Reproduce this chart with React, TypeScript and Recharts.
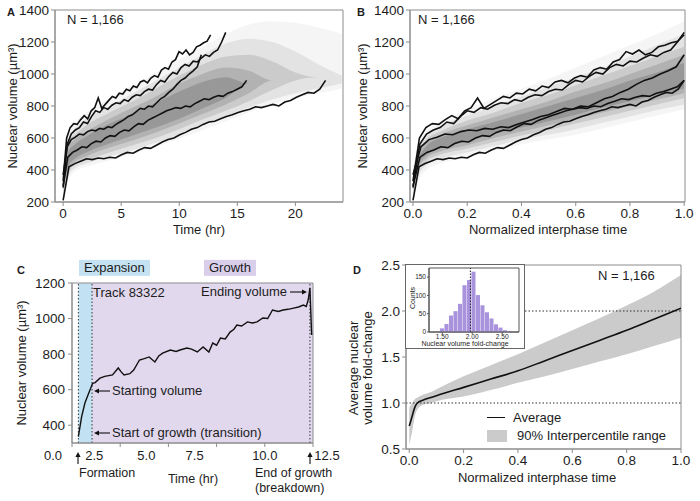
import React from "react";
import {
  ComposedChart,
  Line,
  Area,
  Bar,
  XAxis,
  YAxis,
  ReferenceArea,
  ReferenceLine,
} from "recharts";

const FONT = '"Liberation Sans", Arial, sans-serif';
const AXIS = "#8c8c8c";
const INK = "#1c1c1c";

// five highlighted tracks, each sampled evenly over its own lifetime
const TRACK_HOURS = [12.7, 14.0, 11.9, 15.8, 22.6];
const TRACK_1 = [
  330, 600, 665, 690, 685, 715, 740, 720, 770, 790, 850, 785, 810, 835, 860,
  850, 880, 875, 905, 895, 925, 915, 950, 960, 945, 975, 990, 980, 1025, 1040,
  1030, 1075, 1090, 1140, 1125, 1150, 1120, 1135, 1170, 1180, 1195, 1205, 1245,
];
const TRACK_2 = [
  290, 560, 625, 650, 665, 700, 690, 735, 770, 760, 790, 780, 805, 820, 815,
  840, 830, 855, 870, 865, 890, 905, 900, 935, 960, 950, 985, 1010, 1000, 1040,
  1060, 1050, 1080, 1075, 1100, 1120, 1110, 1135, 1150, 1200, 1260,
];
const TRACK_3 = [
  370, 545, 590, 605, 625, 620, 640, 650, 645, 660, 655, 670, 665, 685, 700,
  715, 735, 745, 765, 785, 780, 800, 795, 820, 845, 860, 885, 905, 935, 960,
  975, 1000, 1020, 1045, 1120,
];
const TRACK_4 = [
  300, 480, 510, 525, 545, 540, 565, 580, 575, 600, 615, 610, 635, 650, 645,
  670, 690, 685, 710, 725, 740, 755, 770, 780, 790, 785, 800, 795, 815, 830,
  845, 840, 855, 865, 860, 880, 890, 905, 920, 960,
];
const TRACK_5 = [
  210, 420, 440, 455, 470, 465, 475, 470, 480, 475, 495, 510, 505, 525, 540,
  535, 555, 575, 590, 600, 620, 635, 655, 665, 685, 700, 705, 720, 735, 745,
  760, 770, 780, 795, 790, 800, 810, 800, 825, 835, 855, 870, 885, 880, 905,
  960,
];
const TRACKS = [TRACK_1, TRACK_2, TRACK_3, TRACK_4, TRACK_5];

// density of all 1,166 tracks, as nested bands (outer -> core)
const CLOUD_A_HOURS = [0, 0.5, 1, 2, 4, 6, 8, 10, 12, 14, 16, 18, 20, 22, 24];
const CLOUD_A_LOW = [
  [220, 340, 390, 420, 460, 500, 545, 595, 650, 705, 760, 810, 850, 880, 910],
  [240, 370, 410, 440, 485, 525, 570, 620, 680, 735, 790, 840, 880, 910, 940],
  [260, 390, 430, 460, 510, 555, 600, 655, 715, 770, 830, 900, 960, 980, 980],
  [280, 410, 450, 485, 540, 585, 635, 690, 750, 810, 880, 960, 960, 960, 960],
  [300, 430, 470, 510, 565, 615, 665, 720, 785, 850, 940, 940, 940, 940, 940],
];
const CLOUD_A_HIGH = [
  [460, 640, 700, 760, 850, 930, 1010, 1090, 1170, 1250, 1310, 1330, 1320, 1290, 1250],
  [430, 610, 660, 720, 800, 880, 960, 1040, 1120, 1190, 1220, 1200, 1140, 1060, 990],
  [400, 580, 620, 680, 760, 830, 910, 990, 1060, 1110, 1120, 1080, 1010, 980, 980],
  [380, 550, 590, 640, 720, 790, 860, 940, 1000, 1040, 1020, 960, 960, 960, 960],
  [360, 520, 560, 610, 690, 750, 820, 890, 950, 980, 940, 940, 940, 940, 940],
];
const CLOUD_B_TIME = [0, 0.02, 0.05, 0.1, 0.2, 0.3, 0.4, 0.5, 0.6, 0.7, 0.8, 0.9, 1.0];
const CLOUD_B_LOW = [
  [220, 330, 400, 440, 480, 520, 560, 590, 620, 660, 700, 740, 780],
  [240, 360, 430, 470, 510, 550, 590, 620, 655, 695, 735, 775, 810],
  [260, 390, 455, 495, 535, 575, 615, 650, 690, 730, 770, 810, 850],
  [280, 410, 475, 515, 555, 600, 640, 680, 720, 760, 800, 840, 880],
  [300, 430, 495, 535, 580, 625, 665, 705, 745, 790, 830, 870, 910],
];
const CLOUD_B_HIGH = [
  [430, 560, 640, 700, 780, 850, 910, 970, 1040, 1110, 1180, 1250, 1330],
  [410, 530, 610, 670, 740, 800, 860, 920, 980, 1040, 1110, 1180, 1250],
  [390, 510, 590, 640, 710, 760, 820, 870, 930, 990, 1050, 1110, 1170],
  [370, 490, 570, 620, 680, 730, 780, 830, 890, 940, 1000, 1060, 1120],
  [350, 470, 550, 600, 655, 700, 750, 800, 850, 900, 960, 1010, 1070],
];
const CLOUD_OPACITY = [0.04, 0.07, 0.1, 0.12, 0.14];

// panel C: track 83322
const C_HOURS = [
  0.33, 0.5, 0.67, 0.85, 1.07, 1.2, 1.45, 1.7, 2.1, 2.4, 2.55, 2.7, 3.0, 3.2,
  3.5, 3.75, 4.0, 4.3, 4.5, 4.7, 5.1, 5.4, 5.6, 5.96, 6.2, 6.5, 6.8, 7.1, 7.3,
  7.5, 7.7, 7.95, 8.2, 8.4, 8.55, 8.8, 9.1, 9.35, 9.6, 9.9, 10.15, 10.4, 10.7,
  10.95, 11.2, 11.5, 11.75, 12.0, 12.15, 12.25, 12.34, 12.43,
];
const C_VOLUME = [
  336, 448, 525, 575, 636, 640, 665, 675, 683, 722, 700, 683, 690, 710, 767,
  775, 784, 756, 790, 805, 823, 815, 823, 834, 828, 812, 840, 812, 862, 850,
  890, 885, 924, 940, 963, 958, 981, 975, 981, 1003, 1000, 1048, 1040, 1048,
  1052, 1059, 1065, 1076, 1068, 1104, 1172, 908,
];
const C_FORMATION = 0.33;
const C_TRANSITION = 1.04;
const C_BREAKDOWN = 12.34;
const C_TICKS = [0, 2.5, 5, 7.5, 10, 12.5];
const C_TICK_SHIFT: Record<string, number> = { "0": -19, "2.5": -26, "5": -22, "7.5": -22, "10": 0, "12.5": 14 };

// panel D: fold-change over normalized time
const D_TIME = [0, 0.01, 0.02, 0.03, 0.05, 0.08, 0.1, 0.2, 0.3, 0.4, 0.5, 0.6, 0.7, 0.8, 0.9, 1.0];
const D_AVG = [0.75, 0.85, 0.95, 1.0, 1.03, 1.06, 1.08, 1.17, 1.26, 1.35, 1.46, 1.57, 1.68, 1.79, 1.91, 2.03];
const D_LOW = [0.55, 0.68, 0.85, 0.93, 0.98, 1.0, 1.02, 1.07, 1.14, 1.22, 1.29, 1.37, 1.45, 1.53, 1.62, 1.71];
const D_HIGH = [0.95, 1.0, 1.04, 1.06, 1.09, 1.12, 1.15, 1.29, 1.41, 1.53, 1.66, 1.79, 1.92, 2.06, 2.21, 2.39];

// inset histogram of final fold-change
const HIST_BINS = [1.5, 1.575, 1.65, 1.725, 1.8, 1.875, 1.95, 2.025, 2.1, 2.175, 2.25, 2.325, 2.4, 2.475, 2.55, 2.625];
const HIST_COUNTS = [10, 22, 45, 57, 77, 128, 142, 165, 101, 73, 54, 37, 21, 12, 5, 2];
const HIST_MEAN = 1.97;

const trackRows = TRACKS.map((vals, k) =>
  vals.map((v, i) => {
    const n = i / (vals.length - 1);
    return { t: n * TRACK_HOURS[k], n, v };
  })
);

function bands(xs: number[], key: string, low: number[][], high: number[][]) {
  return xs.map((x, i) => {
    const row: any = { [key]: x };
    low.forEach((lo, k) => {
      row["b" + k] = [lo[i], high[k][i]];
    });
    return row;
  });
}
const cloudA = bands(CLOUD_A_HOURS, "t", CLOUD_A_LOW, CLOUD_A_HIGH);
const cloudB = bands(CLOUD_B_TIME, "n", CLOUD_B_LOW, CLOUD_B_HIGH);
const cRows = C_HOURS.map((t, i) => ({ t, v: C_VOLUME[i] }));
const dRows = D_TIME.map((x, i) => ({ x, avg: D_AVG[i], range: [D_LOW[i], D_HIGH[i]] }));
const histRows = HIST_BINS.map((x, i) => ({ x, count: HIST_COUNTS[i] }));

const axisProps = {
  axisLine: { stroke: AXIS },
  tickLine: { stroke: AXIS },
  tickSize: 4,
  tick: { fill: INK, fontSize: 13.5, fontFamily: FONT },
};

function Txt({ x, y, children, size = 13, anchor = "start", rotate = 0, bold = false, bg }: any) {
  const tx = anchor === "middle" ? "-50%" : anchor === "end" ? "-100%" : "0";
  return (
    <div
      style={{
        position: "absolute",
        left: x,
        top: y,
        transform: `translate(${tx}, -50%)${rotate ? ` rotate(${rotate}deg)` : ""}`,
        fontSize: size,
        fontWeight: bold ? 700 : 400,
        fontFamily: FONT,
        color: INK,
        whiteSpace: "nowrap",
        lineHeight: 1.1,
        background: bg,
        padding: bg ? "1px 5px" : 0,
      }}
    >
      {children}
    </div>
  );
}

function CTick(props: any) {
  const { x, y, payload } = props;
  const dx = C_TICK_SHIFT[String(payload.value)] ?? 0;
  return (
    <text x={x + dx} y={y} dy="0.71em" textAnchor="middle" fontSize={13} fontFamily={FONT} fill={INK}>
      {Number(payload.value).toFixed(1)}
    </text>
  );
}

function TracksPanel({ normalized }: { normalized: boolean }) {
  const xKey = normalized ? "n" : "t";
  const xDom: [number, number] = normalized ? [-0.011, 1.003] : [-0.7, 24.1];
  const cloud = normalized ? cloudB : cloudA;
  return (
    <ComposedChart
      width={350}
      height={250}
      margin={normalized ? { top: 10, right: 15, bottom: 18, left: 20 } : { top: 10, right: 7, bottom: 18, left: 15 }}
    >
      <XAxis
        type="number"
        dataKey={xKey}
        domain={xDom}
        allowDataOverflow
        ticks={normalized ? [0, 0.2, 0.4, 0.6, 0.8, 1] : [0, 5, 10, 15, 20]}
        tickFormatter={(v: number) => (normalized ? v.toFixed(1) : String(v))}
        height={30}
        {...axisProps}
      />
      <YAxis
        type="number"
        domain={[200, 1400]}
        allowDataOverflow
        ticks={[200, 400, 600, 800, 1000, 1200, 1400]}
        width={40}
        {...axisProps}
      />
      {CLOUD_OPACITY.map((op, k) => (
        <Area
          key={"c" + k}
          data={cloud}
          dataKey={"b" + k}
          type="monotone"
          stroke="none"
          fill="#000"
          fillOpacity={op}
          isAnimationActive={false}
        />
      ))}
      {trackRows.map((rows, k) => (
        <Line
          key={"t" + k}
          data={rows}
          dataKey="v"
          type="linear"
          stroke="#111"
          strokeWidth={1.6}
          dot={false}
          isAnimationActive={false}
        />
      ))}
      <ReferenceArea x1={xDom[0]} x2={xDom[1]} y1={200} y2={1400} fill="none" stroke={AXIS} ifOverflow="visible" />
    </ComposedChart>
  );
}

function TrackPanel() {
  return (
    <ComposedChart width={350} height={251} margin={{ top: 33, right: 37, bottom: 28, left: 32 }}>
      <XAxis
        type="number"
        dataKey="t"
        domain={[0, 12.5]}
        allowDataOverflow
        ticks={C_TICKS}
        height={30}
        tickMargin={4}
        {...axisProps}
        tick={<CTick />}
      />
      <YAxis type="number" domain={[300, 1200]} allowDataOverflow ticks={[400, 600, 800, 1000, 1200]} width={40} tickMargin={3} {...axisProps} />
      <ReferenceArea x1={C_FORMATION} x2={C_TRANSITION} y1={300} y2={1200} fill="#c2e1f2" fillOpacity={1} stroke="none" />
      <ReferenceArea x1={C_TRANSITION} x2={12.5} y1={300} y2={1200} fill="#e1d8ee" fillOpacity={1} stroke="none" />
      {[C_FORMATION, C_TRANSITION, C_BREAKDOWN].map((x) => (
        <ReferenceLine key={x} x={x} stroke="#333" strokeDasharray="1.5 2" />
      ))}
      <Line data={cRows} dataKey="v" type="linear" stroke="#111" strokeWidth={1.4} dot={false} isAnimationActive={false} />
      <ReferenceArea x1={0} x2={12.5} y1={300} y2={1200} fill="none" stroke={AXIS} ifOverflow="visible" />
    </ComposedChart>
  );
}

function FoldPanel() {
  return (
    <ComposedChart width={350} height={251} data={dRows} margin={{ top: 15, right: 19, bottom: 22, left: 20 }}>
      <XAxis
        type="number"
        dataKey="x"
        domain={[-0.012, 1]}
        allowDataOverflow
        ticks={[0, 0.2, 0.4, 0.6, 0.8, 1]}
        tickFormatter={(v: number) => v.toFixed(1)}
        height={30}
        {...axisProps}
      />
      <YAxis
        type="number"
        domain={[0.5, 2.5]}
        allowDataOverflow
        ticks={[0.5, 1, 1.5, 2, 2.5]}
        tickFormatter={(v: number) => v.toFixed(1)}
        width={36}
        {...axisProps}
      />
      <Area dataKey="range" type="monotone" stroke="none" fill="#cbcbcb" fillOpacity={1} isAnimationActive={false} />
      <ReferenceLine y={1} stroke="#333" strokeDasharray="1.5 2" />
      <ReferenceLine y={2} stroke="#333" strokeDasharray="1.5 2" />
      <Line dataKey="avg" type="monotone" stroke="#111" strokeWidth={1.6} dot={false} isAnimationActive={false} />
      <ReferenceArea x1={-0.012} x2={1} y1={0.5} y2={2.5} fill="none" stroke={AXIS} ifOverflow="visible" />
    </ComposedChart>
  );
}

function HistInset() {
  const small = { fill: INK, fontSize: 6.5, fontFamily: FONT };
  return (
    <ComposedChart width={118} height={83} data={histRows} margin={{ top: 3, right: 5, bottom: 6, left: 5 }}>
      <XAxis
        type="number"
        dataKey="x"
        domain={[1.28, 2.78]}
        allowDataOverflow
        ticks={[1.5, 2, 2.5]}
        tickFormatter={(v: number) => v.toFixed(2)}
        height={10}
        tickSize={2}
        tickMargin={0}
        axisLine={{ stroke: "#555" }}
        tickLine={{ stroke: "#555" }}
        tick={small}
      />
      <YAxis
        type="number"
        domain={[0, 175]}
        allowDataOverflow
        ticks={[0, 50, 100, 150]}
        width={18}
        tickSize={2}
        tickMargin={1}
        axisLine={{ stroke: "#555" }}
        tickLine={{ stroke: "#555" }}
        tick={small}
      />
      <Bar dataKey="count" fill="#a993dc" barSize={4.6} isAnimationActive={false} />
      <ReferenceLine x={HIST_MEAN} stroke="#222" strokeDasharray="1.5 1.5" />
      <ReferenceArea x1={1.28} x2={2.78} y1={0} y2={175} fill="none" stroke="#555" ifOverflow="visible" />
    </ComposedChart>
  );
}

function Arrow({ x1, y1, x2, y2 }: { x1: number; y1: number; x2: number; y2: number }) {
  const a = Math.atan2(y2 - y1, x2 - x1);
  const h = 5;
  const w = 2.6;
  const bx = x2 - h * Math.cos(a);
  const by = y2 - h * Math.sin(a);
  const px = -Math.sin(a) * w;
  const py = Math.cos(a) * w;
  return (
    <g>
      <line x1={x1} y1={y1} x2={bx} y2={by} stroke="#111" strokeWidth={1.1} />
      <polygon points={`${x2},${y2} ${bx + px},${by + py} ${bx - px},${by - py}`} fill="#111" />
    </g>
  );
}

export default function App() {
  return (
    <div style={{ position: "absolute", left: 0, top: 0, width: 700, height: 501, background: "#fff", fontFamily: FONT }}>
      <div style={{ position: "absolute", left: 0, top: 0 }}>
        <TracksPanel normalized={false} />
      </div>
      <div style={{ position: "absolute", left: 350, top: 0 }}>
        <TracksPanel normalized />
      </div>
      <div style={{ position: "absolute", left: 0, top: 250 }}>
        <TrackPanel />
      </div>
      <div style={{ position: "absolute", left: 350, top: 250 }}>
        <FoldPanel />
      </div>
      <div style={{ position: "absolute", left: 406, top: 265, width: 118, height: 83, background: "#fff", outline: "1px solid #666" }}>
        <HistInset />
        <Txt x={59} y={78.5} size={7} anchor="middle">Nuclear volume fold-change</Txt>
        <Txt x={7} y={33} size={7} anchor="middle" rotate={-90}>Counts</Txt>
      </div>

      {/* panel A */}
      <Txt x={11} y={12} size={11} anchor="middle" bold>A</Txt>
      <Txt x={67} y={20}>N = 1,166</Txt>
      <Txt x={13} y={106} anchor="middle" rotate={-90}>Nuclear volume (µm³)</Txt>
      <Txt x={199} y={230} anchor="middle">Time (hr)</Txt>

      {/* panel B */}
      <Txt x={361} y={12} size={11} anchor="middle" bold>B</Txt>
      <Txt x={418} y={20}>N = 1,166</Txt>
      <Txt x={363} y={106} anchor="middle" rotate={-90}>Nuclear volume (µm³)</Txt>
      <Txt x={548} y={230} anchor="middle">Normalized interphase time</Txt>

      {/* panel C */}
      <Txt x={21} y={270} size={11} anchor="middle" bold>C</Txt>
      <Txt x={79} y={268} bg="#c4e2f2">Expansion</Txt>
      <Txt x={204} y={268} bg="#dacfeb">Growth</Txt>
      <Txt x={22} y={363} anchor="middle" rotate={-90}>Nuclear volume (µm³)</Txt>
      <Txt x={93} y={293}>Track 83322</Txt>
      <Txt x={287} y={292} anchor="end">Ending volume</Txt>
      <Txt x={112} y={391}>Starting volume</Txt>
      <Txt x={112} y={433}>Start of growth (transition)</Txt>
      <Txt x={79} y={474} size={12.5}>Formation</Txt>
      <Txt x={193} y={480} anchor="middle" size={12.5}>Time (hr)</Txt>
      <Txt x={255} y={474} size={12.5}>End of growth</Txt>
      <Txt x={255} y={489} size={12.5}>(breakdown)</Txt>

      {/* panel D */}
      <Txt x={357} y={270} size={11} anchor="middle" bold>D</Txt>
      <Txt x={598} y={276}>N = 1,166</Txt>
      <Txt x={354} y={368} anchor="middle" rotate={-90}>Average nuclear</Txt>
      <Txt x={368} y={368} anchor="middle" rotate={-90}>volume fold-change</Txt>
      <Txt x={537} y={478} anchor="middle">Normalized interphase time</Txt>
      <div style={{ position: "absolute", left: 487, top: 417, width: 18, borderTop: "1.6px solid #111" }} />
      <Txt x={513} y={418}>Average</Txt>
      <div style={{ position: "absolute", left: 487, top: 430, width: 20, height: 12, background: "#cbcbcb" }} />
      <Txt x={517} y={436}>90% Interpercentile range</Txt>

      <svg width={700} height={501} style={{ position: "absolute", left: 0, top: 0, pointerEvents: "none" }}>
        <Arrow x1={290} y1={292} x2={307} y2={292} />
        <Arrow x1={110} y1={391} x2={94} y2={391} />
        <Arrow x1={110} y1={433} x2={94} y2={433} />
        <Arrow x1={78} y1={464} x2={78} y2={452} />
        <Arrow x1={310} y1={464} x2={310} y2={452} />
      </svg>
    </div>
  );
}
